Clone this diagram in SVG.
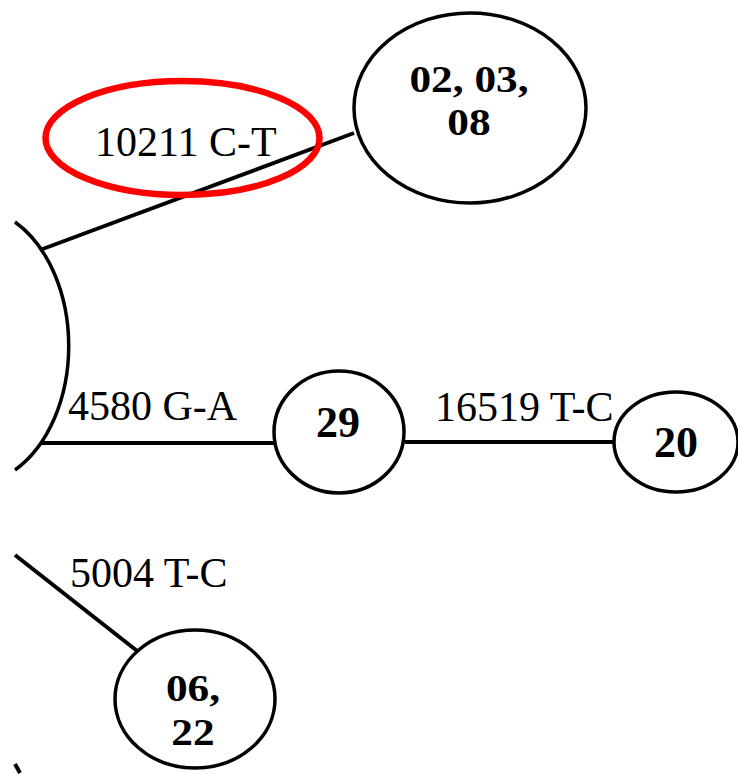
<svg xmlns="http://www.w3.org/2000/svg" width="738" height="775" viewBox="0 0 738 775">
<style>
.node{fill:#fff;stroke:#000;stroke-width:3.5}
.edge{fill:none;stroke:#000;stroke-width:4}
.lbl{font-family:"Liberation Serif","Times New Roman",serif;font-size:42px;fill:#000}
.nt{font-family:"Liberation Serif","Times New Roman",serif;font-size:44px;font-weight:bold;fill:#000;text-anchor:middle}
.nt2{font-family:"Liberation Serif","Times New Roman",serif;font-size:38px;font-weight:bold;fill:#000;text-anchor:middle}
</style>
<rect width="738" height="775" fill="#fff"/>
<g id="connectors">
<path class="edge" d="M40,250 L354,133"/>
<path class="edge" d="M40,443 L275,443"/>
<path class="edge" d="M405,442 L614,442"/>
<path class="edge" d="M15,555 L141,654"/>
<path class="edge" d="M15,764 L20,773"/>
</g>
<g id="hub">
<path class="node" d="M15,222 A98,139 0 0 1 15,470" style="fill:none"/>
</g>
<g id="node-020308">
<ellipse class="node" cx="470" cy="108" rx="116" ry="95"/>
<g transform="translate(469,0) scale(1.14,1)">
<text class="nt2" x="0" y="92">02, 03,</text>
<text class="nt2" x="0" y="135">08</text>
</g>
</g>
<g id="node-29">
<ellipse class="node" cx="339" cy="432" rx="65" ry="61"/>
<text class="nt" x="338" y="437">29</text>
</g>
<g id="node-20">
<ellipse class="node" cx="676" cy="442" rx="62" ry="50"/>
<text class="nt" x="676" y="457">20</text>
</g>
<g id="node-0622">
<ellipse class="node" cx="195" cy="699" rx="80" ry="69"/>
<g transform="translate(193,0) scale(1.14,1)">
<text class="nt2" x="0" y="701">06,</text>
<text class="nt2" x="0" y="745">22</text>
</g>
</g>
<g id="labels">
<text class="lbl" x="95" y="156">10211 C-T</text>
<text class="lbl" x="68" y="420">4580 G-A</text>
<text class="lbl" x="435" y="421">16519 T-C</text>
<text class="lbl" x="70" y="587">5004 T-C</text>
</g>
<g id="highlight">
<ellipse cx="182.5" cy="138" rx="137" ry="57" fill="none" stroke="#f00" stroke-width="6.5"/>
</g>
</svg>
